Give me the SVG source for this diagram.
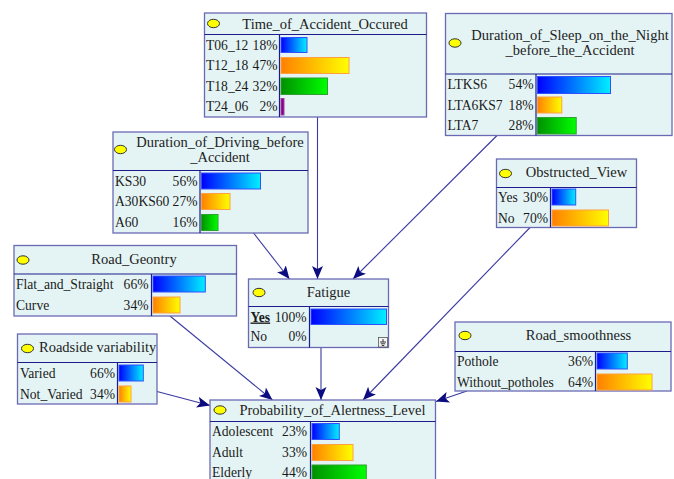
<svg xmlns="http://www.w3.org/2000/svg" width="674" height="479" viewBox="0 0 674 479">
<style>
.box{fill:#e4f4f5;stroke:#6a6ab4;stroke-width:1.3}
.div{stroke:#1c1c8c;stroke-width:1.2;fill:none}
text{font-family:'Liberation Serif','Times New Roman','DejaVu Serif',serif}
.t{font-size:14.5px;fill:#222}
.r{font-size:13.6px;fill:#1a1a1a}
.e{text-anchor:end}
.m{text-anchor:middle}
.ov{fill:#ffff00;stroke:#333;stroke-width:1}
.bb{fill:url(#gb);stroke:#3050ff;stroke-width:1}
.bo{fill:url(#go);stroke:#ffa040;stroke-width:1}
.bg{fill:url(#gg);stroke:#30a030;stroke-width:1}
.bp{fill:#8a008a;stroke:#a040a0;stroke-width:1}
.c{stroke:#3a3aa0;stroke-width:1.1;fill:none;marker-end:url(#ah)}
</style>
<defs>
<linearGradient id="gb" x1="0" y1="0" x2="1" y2="0"><stop offset="0" stop-color="#0000ff"/><stop offset="1" stop-color="#00f0ff"/></linearGradient>
<linearGradient id="go" x1="0" y1="0" x2="1" y2="0"><stop offset="0" stop-color="#ff8000"/><stop offset="1" stop-color="#ffff00"/></linearGradient>
<linearGradient id="gg" x1="0" y1="0" x2="1" y2="0"><stop offset="0" stop-color="#009000"/><stop offset="1" stop-color="#00ff00"/></linearGradient>
<marker id="ah" markerUnits="userSpaceOnUse" markerWidth="14" markerHeight="12" refX="13" refY="5.5" orient="auto"><path d="M0,0 L13,5.5 L0,11 L3,5.5 z" fill="#0c0c80"/></marker>
</defs>

<g id="connectors">
<path class="c" d="M317.5,117 L317.5,279"/>
<path class="c" d="M497,135.5 L353,279"/>
<path class="c" d="M253.5,233 L289.5,279"/>
<path class="c" d="M530,227.5 L363,400"/>
<path class="c" d="M170,316 L272.5,400"/>
<path class="c" d="M157,391.5 L210,405.5"/>
<path class="c" d="M321,347.5 L321,400"/>
<path class="c" d="M467,391 L436,401.5"/>
</g>

<g id="time_of_accident">
<rect class="box" x="204.5" y="13" width="222" height="104"/>
<path class="div" d="M204.5,34.5 H426.5 M279.5,34.5 V117"/>
<ellipse class="ov" cx="213.5" cy="23.5" rx="6" ry="4.2"/>
<text class="t m" x="325" y="28.5">Time_of_Accident_Occured</text>
<text class="r" x="206" y="49.5">T06_12</text><text class="r e" x="277.5" y="49.5">18%</text>
<rect class="bb" x="281" y="37.5" width="26" height="15"/>
<text class="r" x="206" y="70">T12_18</text><text class="r e" x="277.5" y="70">47%</text>
<rect class="bo" x="281" y="57.5" width="68" height="16"/>
<text class="r" x="206" y="90.5">T18_24</text><text class="r e" x="277.5" y="90.5">32%</text>
<rect class="bg" x="281" y="78" width="46.5" height="16.5"/>
<text class="r" x="206" y="111">T24_06</text><text class="r e" x="277.5" y="111">2%</text>
<rect class="bp" x="281" y="98.5" width="3" height="16.5"/>
</g>

<g id="duration_of_sleep">
<rect class="box" x="445.5" y="13.5" width="226.5" height="122"/>
<path class="div" d="M445.5,74 H672 M536,74 V135.5"/>
<ellipse class="ov" cx="455" cy="43" rx="6" ry="4.2"/>
<text class="t m" x="570" y="39.5">Duration_of_Sleep_on_the_Night</text>
<text class="t m" x="570" y="54.5">_before_the_Accident</text>
<text class="r" x="447.5" y="89">LTKS6</text><text class="r e" x="533.5" y="89">54%</text>
<rect class="bb" x="537.5" y="76.5" width="73" height="17"/>
<text class="r" x="447.5" y="109.5">LTA6KS7</text><text class="r e" x="533.5" y="109.5">18%</text>
<rect class="bo" x="537.5" y="97" width="24.3" height="16"/>
<text class="r" x="447.5" y="130">LTA7</text><text class="r e" x="533.5" y="130">28%</text>
<rect class="bg" x="537.5" y="117.5" width="38.7" height="16.5"/>
</g>

<g id="duration_of_driving">
<rect class="box" x="113" y="132" width="195" height="101"/>
<path class="div" d="M113,170.5 H308 M200,170.5 V233"/>
<ellipse class="ov" cx="120.5" cy="149.5" rx="6" ry="4.2"/>
<text class="t m" x="220" y="146.5">Duration_of_Driving_before</text>
<text class="t m" x="220" y="161.5">_Accident</text>
<text class="r" x="115" y="185.5">KS30</text><text class="r e" x="197.5" y="185.5">56%</text>
<rect class="bb" x="201.5" y="173" width="59" height="16"/>
<text class="r" x="115" y="206">A30KS60</text><text class="r e" x="197.5" y="206">27%</text>
<rect class="bo" x="201.5" y="193.5" width="28.5" height="16"/>
<text class="r" x="115" y="227">A60</text><text class="r e" x="197.5" y="227">16%</text>
<rect class="bg" x="201.5" y="214.5" width="16.5" height="16"/>
</g>

<g id="obstructed_view">
<rect class="box" x="496.5" y="159" width="140" height="68.5"/>
<path class="div" d="M496.5,187.5 H636.5 M550.5,187.5 V227.5"/>
<ellipse class="ov" cx="505.5" cy="173.5" rx="6" ry="4.2"/>
<text class="t m" x="576.5" y="176.5">Obstructed_View</text>
<text class="r" x="498" y="201.5">Yes</text><text class="r e" x="548" y="201.5">30%</text>
<rect class="bb" x="552" y="189" width="23.7" height="16"/>
<text class="r" x="498" y="222.5">No</text><text class="r e" x="548" y="222.5">70%</text>
<rect class="bo" x="552" y="210" width="56.5" height="16"/>
</g>

<g id="road_geontry">
<rect class="box" x="14" y="245.5" width="222.5" height="70.5"/>
<path class="div" d="M14,274 H236.5 M151.5,274 V316"/>
<ellipse class="ov" cx="23" cy="260" rx="6" ry="4.2"/>
<text class="t m" x="134" y="264">Road_Geontry</text>
<text class="r" x="16" y="288.5">Flat_and_Straight</text><text class="r e" x="148.5" y="288.5">66%</text>
<rect class="bb" x="153" y="276" width="52.3" height="16"/>
<text class="r" x="16" y="309.5">Curve</text><text class="r e" x="148.5" y="309.5">34%</text>
<rect class="bo" x="153" y="297" width="27" height="16"/>
</g>

<g id="fatigue">
<rect class="box" x="248.5" y="279" width="140" height="68.5"/>
<path class="div" d="M248.5,306.5 H388.5 M309.5,306.5 V347.5"/>
<ellipse class="ov" cx="259" cy="292.5" rx="6" ry="4.2"/>
<text class="t m" x="328.5" y="296.5">Fatigue</text>
<text class="r" x="250.5" y="321.5" font-weight="bold" text-decoration="underline">Yes</text><text class="r e" x="306.5" y="321.5">100%</text>
<rect class="bb" x="311" y="309" width="75.5" height="15.5"/>
<text class="r" x="250.5" y="341">No</text><text class="r e" x="306.5" y="341">0%</text>
<rect x="378.5" y="337.5" width="9" height="9.5" fill="#f4f4f4" stroke="#555" stroke-width="0.8"/>
<path d="M383,339 V342 M380,342 H386 M380.8,343.8 H385.2 M381.8,345.5 H384.2" stroke="#222" stroke-width="0.9" fill="none"/>
</g>

<g id="road_smoothness">
<rect class="box" x="455" y="322" width="216" height="69"/>
<path class="div" d="M455,351.5 H671 M595.5,351.5 V391"/>
<ellipse class="ov" cx="465" cy="335.5" rx="6" ry="4.2"/>
<text class="t m" x="578.5" y="340">Road_smoothness</text>
<text class="r" x="457" y="365.5">Pothole</text><text class="r e" x="593" y="365.5">36%</text>
<rect class="bb" x="597" y="353" width="30.3" height="16"/>
<text class="r" x="457" y="386.5">Without_potholes</text><text class="r e" x="593" y="386.5">64%</text>
<rect class="bo" x="597" y="374" width="55" height="16"/>
</g>

<g id="roadside_variability">
<rect class="box" x="17.5" y="334" width="139.5" height="70"/>
<path class="div" d="M17.5,362.5 H157 M117.5,362.5 V404"/>
<ellipse class="ov" cx="27.5" cy="348.5" rx="6" ry="4.2"/>
<text class="t" x="39" y="352" font-size="13.5">Roadside variability</text>
<text class="r" x="20" y="377.5">Varied</text><text class="r e" x="115" y="377.5">66%</text>
<rect class="bb" x="119" y="365" width="24.3" height="16"/>
<text class="r" x="20" y="398.5">Not_Varied</text><text class="r e" x="115" y="398.5">34%</text>
<rect class="bo" x="119" y="386" width="12" height="16"/>
</g>

<g id="probability_of_alertness">
<rect class="box" x="210" y="400" width="225.5" height="90"/>
<path class="div" d="M210,421.5 H435.5 M310.5,421.5 V490"/>
<ellipse class="ov" cx="220" cy="410" rx="6" ry="4.2"/>
<text class="t m" x="332.5" y="414.5">Probability_of_Alertness_Level</text>
<text class="r" x="212" y="436">Adolescent</text><text class="r e" x="307" y="436">23%</text>
<rect class="bb" x="312" y="423.5" width="27.3" height="16"/>
<text class="r" x="212" y="457">Adult</text><text class="r e" x="307" y="457">33%</text>
<rect class="bo" x="312" y="444.5" width="41" height="16"/>
<text class="r" x="212" y="477">Elderly</text><text class="r e" x="307" y="477">44%</text>
<rect class="bg" x="312" y="465" width="54.3" height="16"/>
</g>
</svg>
